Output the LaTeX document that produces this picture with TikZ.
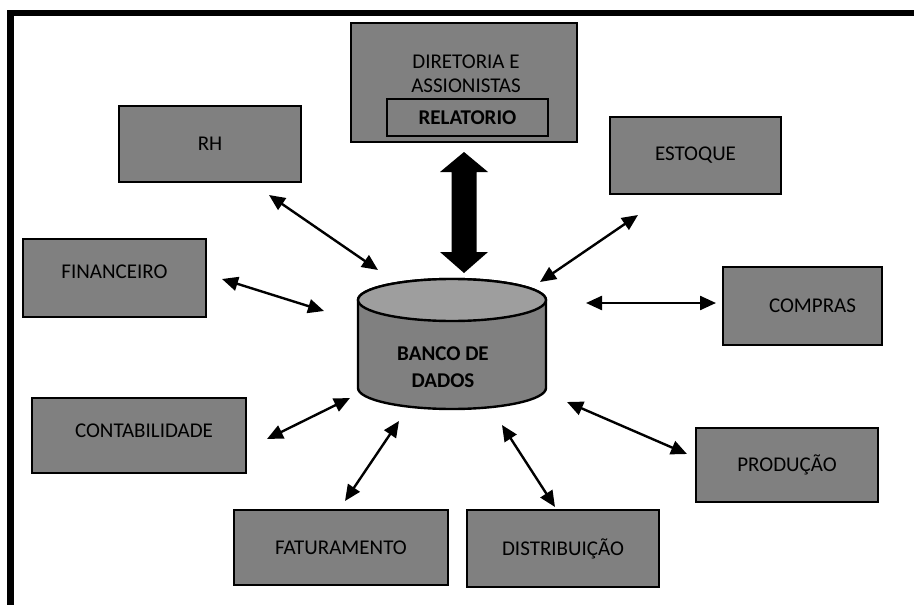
\documentclass[tikz,border=0pt]{standalone}
\usepackage{fontspec}
\setmainfont{Carlito}
\usetikzlibrary{arrows.meta}
\definecolor{boxgray}{HTML}{808080}
\definecolor{topgray}{HTML}{9E9E9E}
\begin{document}
\begin{tikzpicture}[x=1pt,y=-1pt,
  dept/.style={draw=black, line width=2.4pt, fill=boxgray, inner sep=0pt,
    font=\fontsize{21}{24}\selectfont},
  link/.style={line width=2.4pt,
    {Triangle[length=16pt,width=14pt]}-{Triangle[length=16pt,width=14pt]}},
  txt/.style={inner sep=0pt, align=center, font=\fontsize{21}{24}\selectfont},
]
\useasboundingbox (0,0) rectangle (914,605);
% frame
\draw[line width=6.5pt] (10.5,605) -- (10.5,12.75) -- (914,12.75);

% boxes
\node[dept, minimum width=226pt, minimum height=119pt] (dir) at (464,82.5) {};
\node[txt] (dirtxt) at (466,73.3) {DIRETORIA E\\ASSIONISTAS};
\node[dept, minimum width=161pt, minimum height=37pt, font=\fontsize{21}{24}\selectfont\bfseries] (rel) at (467.5,117.5) {RELATORIO};

\node[dept, minimum width=182pt, minimum height=75.5pt] (rh) at (210,144) {RH};
\node[dept, minimum width=171pt, minimum height=77pt] (est) at (695.5,155.5) {ESTOQUE};
\node[dept, minimum width=183pt, minimum height=78pt, text depth=12pt] (fin) at (114.5,278) {FINANCEIRO};
\node[dept, minimum width=159pt, minimum height=78pt] (comp) at (802.5,306) {\hspace*{20pt}COMPRAS};
\node[dept, minimum width=214pt, minimum height=75pt, text depth=10pt] (cont) at (139,435.5) {\hspace*{10pt}CONTABILIDADE};
\node[dept, minimum width=182pt, minimum height=74pt, text depth=4pt] (prod) at (787,465) {PRODUÇÃO};
\node[dept, minimum width=214pt, minimum height=75pt] (fat) at (341,547.5) {FATURAMENTO};
\node[dept, minimum width=192pt, minimum height=77pt] (dist) at (563,548.5) {DISTRIBUIÇÃO};

% database cylinder
\draw[line width=2.4pt, fill=boxgray]
  (358,300) -- (358,388) arc[start angle=180, end angle=360, x radius=94pt, y radius=21pt]
  -- (546,300) arc[start angle=0, end angle=180, x radius=94pt, y radius=21pt] -- cycle;
\draw[line width=2.4pt, fill=topgray] (452,300) ellipse [x radius=94pt, y radius=21pt];
\node[txt, font=\fontsize{21}{27}\selectfont\bfseries] (db) at (443,366.7) {BANCO DE\\DADOS};

% thick double arrow
\fill[black] (464,152) -- (488,172) -- (476.5,172) -- (476.5,252) -- (488,252) -- (464,273)
  -- (440,252) -- (451.5,252) -- (451.5,172) -- (440,172) -- cycle;

% connector end points
\coordinate (rhA) at (269,195);   \coordinate (rhB) at (378,270);
\coordinate (finA) at (222,279);  \coordinate (finB) at (324,311);
\coordinate (estA) at (638,215);  \coordinate (estB) at (540,282);
\coordinate (compA) at (586,303); \coordinate (compB) at (716,303);
\coordinate (contA) at (267,439); \coordinate (contB) at (350,398);
\coordinate (fatA) at (345,501);  \coordinate (fatB) at (399,421);
\coordinate (distA) at (555,507); \coordinate (distB) at (502,425);
\coordinate (prodA) at (687,454); \coordinate (prodB) at (567,402);

\draw[link] (rhA) -- (rhB);
\draw[link] (finA) -- (finB);
\draw[link] (estA) -- (estB);
\draw[link] (compA) -- (compB);
\draw[link] (contA) -- (contB);
\draw[link] (fatA) -- (fatB);
\draw[link] (distA) -- (distB);
\draw[link] (prodA) -- (prodB);
\end{tikzpicture}
\end{document}
